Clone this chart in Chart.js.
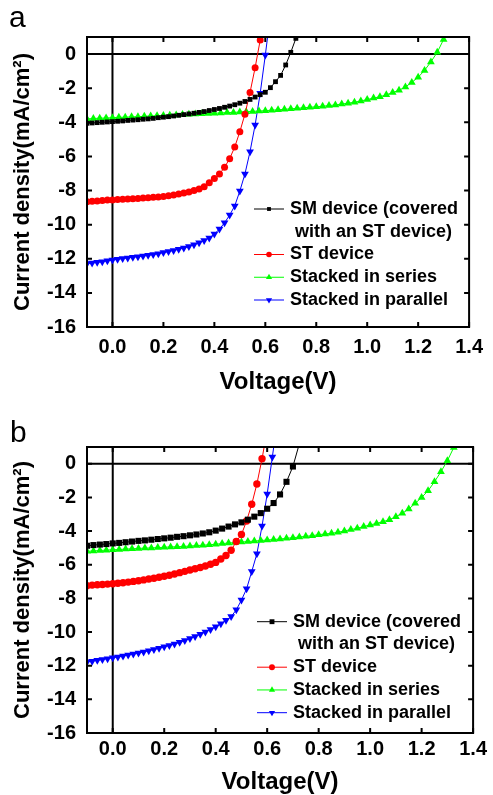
<!DOCTYPE html>
<html>
<head>
<meta charset="utf-8">
<script src="https://cdn.jsdelivr.net/npm/chart.js@4.4.0/dist/chart.umd.min.js"></script>
<style>
    html, body { margin: 0; padding: 0; background: #fff; }
    canvas { position: absolute; left: 0; }
</style>
</head>
<body>
<canvas id="panel-a" width="493" height="395" style="top:0"></canvas>
<canvas id="panel-b" width="493" height="400" style="top:395px"></canvas>
<script>
// Voltage grids (V) the curves were sampled on
const V_STEP_02 = [-0.10, -0.08, -0.06, -0.04, -0.02, 0.00, 0.02, 0.04, 0.06, 0.08,
    0.10, 0.12, 0.14, 0.16, 0.18, 0.20, 0.22, 0.24, 0.26, 0.28,
    0.30, 0.32, 0.34, 0.36, 0.38, 0.40, 0.42, 0.44, 0.46, 0.48,
    0.50, 0.52, 0.54, 0.56, 0.58, 0.60, 0.62, 0.64, 0.66, 0.68,
    0.70, 0.72, 0.74];
const V_STEP_025 = [-0.100, -0.075, -0.050, -0.025, 0.000, 0.025, 0.050, 0.075, 0.100, 0.125,
    0.150, 0.175, 0.200, 0.225, 0.250, 0.275, 0.300, 0.325, 0.350, 0.375,
    0.400, 0.425, 0.450, 0.475, 0.500, 0.525, 0.550, 0.575, 0.600, 0.625,
    0.650, 0.675, 0.700, 0.725, 0.750, 0.775, 0.800, 0.825, 0.850, 0.875,
    0.900, 0.925, 0.950, 0.975, 1.000, 1.025, 1.050, 1.075, 1.100, 1.125,
    1.150, 1.175, 1.200, 1.225, 1.250, 1.275, 1.300, 1.325];

// Series names (legend)
const SERIES_LABELS = [
    'SM device (covered\n with an ST device)',
    'ST device',
    'Stacked in series',
    'Stacked in parallel'
];

// Panel a: current density (mA/cm2)
const A_SM = [-4.06, -4.04, -4.02, -4.00, -3.98, -3.96, -3.94, -3.92, -3.89, -3.87,
    -3.85, -3.82, -3.80, -3.77, -3.73, -3.70, -3.67, -3.63, -3.59, -3.55,
    -3.51, -3.47, -3.42, -3.37, -3.31, -3.25, -3.19, -3.12, -3.05, -2.97,
    -2.88, -2.78, -2.66, -2.52, -2.38, -2.24, -1.97, -1.62, -1.25, -0.64,
    0.10, 0.92, 1.90];
const A_ST = [-8.66, -8.63, -8.61, -8.58, -8.56, -8.55, -8.53, -8.51, -8.50, -8.48,
    -8.46, -8.44, -8.42, -8.40, -8.38, -8.35, -8.31, -8.26, -8.21, -8.15,
    -8.08, -8.00, -7.91, -7.78, -7.54, -7.29, -7.03, -6.64, -6.13, -5.45,
    -4.55, -3.53, -2.25, -0.80, 0.82, 2.60];
const A_SERIES = [-3.80, -3.78, -3.76, -3.75, -3.73, -3.71, -3.70, -3.68, -3.67, -3.65,
    -3.63, -3.62, -3.60, -3.58, -3.57, -3.55, -3.53, -3.52, -3.50, -3.48,
    -3.47, -3.45, -3.43, -3.42, -3.40, -3.38, -3.36, -3.34, -3.32, -3.29,
    -3.27, -3.24, -3.21, -3.18, -3.15, -3.12, -3.09, -3.06, -3.02, -2.98,
    -2.93, -2.88, -2.82, -2.75, -2.67, -2.58, -2.50, -2.39, -2.26, -2.12,
    -1.93, -1.66, -1.36, -0.96, -0.46, 0.10, 0.86];
const A_PARALLEL = [-12.28, -12.25, -12.21, -12.17, -12.12, -12.07, -12.03, -11.99, -11.95, -11.91,
    -11.88, -11.84, -11.80, -11.75, -11.70, -11.64, -11.58, -11.51, -11.44, -11.37,
    -11.28, -11.18, -11.06, -10.93, -10.78, -10.55, -10.26, -9.89, -9.44, -8.90,
    -8.03, -7.03, -5.72, -4.16, -2.30, -0.06, 2.30];

// Panel b: current density (mA/cm2)
const B_SM = [-4.87, -4.83, -4.80, -4.77, -4.73, -4.70, -4.66, -4.62, -4.58, -4.55,
    -4.51, -4.47, -4.43, -4.39, -4.34, -4.30, -4.25, -4.20, -4.14, -4.07,
    -3.97, -3.85, -3.73, -3.60, -3.48, -3.32, -3.14, -2.93, -2.67, -2.33,
    -1.82, -1.07, -0.16, 1.20];
const B_ST = [-7.24, -7.21, -7.19, -7.17, -7.15, -7.13, -7.10, -7.07, -7.03, -6.99,
    -6.95, -6.90, -6.85, -6.80, -6.74, -6.68, -6.62, -6.55, -6.47, -6.39,
    -6.31, -6.24, -6.16, -6.07, -5.97, -5.86, -5.66, -5.45, -5.14, -4.62,
    -4.20, -3.40, -2.40, -1.20, 0.30, 2.00];
const B_SERIES = [-5.20, -5.18, -5.15, -5.13, -5.11, -5.09, -5.07, -5.05, -5.03, -5.01,
    -5.00, -4.98, -4.96, -4.94, -4.93, -4.91, -4.89, -4.86, -4.84, -4.81,
    -4.78, -4.74, -4.71, -4.68, -4.65, -4.62, -4.59, -4.56, -4.53, -4.50,
    -4.47, -4.43, -4.39, -4.35, -4.31, -4.27, -4.21, -4.17, -4.13, -4.07,
    -3.99, -3.91, -3.83, -3.73, -3.63, -3.54, -3.44, -3.32, -3.14, -2.94,
    -2.69, -2.35, -2.00, -1.60, -1.07, -0.47, 0.18, 0.97];
const B_PARALLEL = [-11.78, -11.73, -11.68, -11.63, -11.58, -11.53, -11.48, -11.42, -11.37, -11.31,
    -11.25, -11.18, -11.11, -11.04, -10.96, -10.88, -10.80, -10.71, -10.61, -10.50,
    -10.38, -10.26, -10.13, -9.99, -9.85, -9.68, -9.50, -9.30, -9.08, -8.68,
    -8.10, -7.43, -6.40, -5.35, -3.70, -1.80, 0.40, 2.60];

// Axis ticks
const X_TICKS = [0.0, 0.2, 0.4, 0.6, 0.8, 1.0, 1.2, 1.4];
const Y_TICKS = [0, -2, -4, -6, -8, -10, -12, -14, -16];

const FONT = '"Liberation Sans", Arial, Helvetica, sans-serif';
Chart.defaults.font.family = FONT;
Chart.defaults.color = '#000';

// Marker look per series (same order as labels)
const SERIES_STYLE = [
    { color: '#000000', pointStyle: 'rect', rotation: 0 },
    { color: '#ff0000', pointStyle: 'circle', rotation: 0 },
    { color: '#00ff00', pointStyle: 'triangle', rotation: 0 },
    { color: '#0000ff', pointStyle: 'triangle', rotation: 180 }
];

/**
 * Pair a voltage grid with a current array
 */
function toPoints(volts, amps) {
    return amps.map((j, i) => ({ x: volts[i], y: j }));
}

/**
 * Frame, zero lines, inward ticks, in-plot legend and panel letter
 */
const panelFrame = {
    id: 'panelFrame',
    beforeDatasetsDraw(chart) {
        const { ctx, chartArea: a, scales: { x, y } } = chart;
        const x0 = x.getPixelForValue(0);
        const y0 = y.getPixelForValue(0);
        ctx.save();
        ctx.strokeStyle = '#000';
        ctx.lineWidth = 2;
        ctx.beginPath();
        ctx.moveTo(a.left, y0);
        ctx.lineTo(a.right, y0);
        ctx.moveTo(x0, a.top);
        ctx.lineTo(x0, a.bottom);
        ctx.stroke();
        ctx.restore();
    },
    afterDatasetsDraw(chart) {
        const { ctx, chartArea: a, scales: { x, y } } = chart;
        const tick = 5;
        ctx.save();
        ctx.strokeStyle = '#000';
        ctx.lineWidth = 2;
        ctx.strokeRect(a.left, a.top, a.right - a.left, a.bottom - a.top);
        ctx.beginPath();
        X_TICKS.forEach(v => {
            const px = x.getPixelForValue(v);
            ctx.moveTo(px, a.bottom);
            ctx.lineTo(px, a.bottom - tick);
            ctx.moveTo(px, a.top);
            ctx.lineTo(px, a.top + tick);
        });
        Y_TICKS.forEach(v => {
            const py = y.getPixelForValue(v);
            ctx.moveTo(a.left, py);
            ctx.lineTo(a.left + tick, py);
            ctx.moveTo(a.right, py);
            ctx.lineTo(a.right - tick, py);
        });
        ctx.stroke();
        ctx.restore();
    },
    afterDraw(chart, args, opts) {
        const ctx = chart.ctx;
        ctx.save();

        // legend inside the plot
        ctx.font = 'bold 18px ' + FONT;
        ctx.textBaseline = 'middle';
        ctx.textAlign = 'left';
        let row = 0;
        chart.data.datasets.forEach(ds => {
            const cy = opts.legendY + row * opts.rowHeight;
            ctx.strokeStyle = ds.borderColor;
            ctx.lineWidth = 1;
            ctx.beginPath();
            ctx.moveTo(opts.legendX, cy);
            ctx.lineTo(opts.legendX + opts.lineLength, cy);
            ctx.stroke();
            ctx.fillStyle = ds.pointBackgroundColor;
            Chart.helpers.drawPoint(ctx, {
                pointStyle: ds.pointStyle,
                radius: ds.pointRadius * 0.8,
                rotation: ds.pointRotation,
                borderWidth: 0
            }, opts.legendX + opts.lineLength / 2, cy);
            ctx.fillStyle = '#000';
            ds.label.split('\n').forEach((line, k) => {
                ctx.fillText(line, opts.legendX + opts.lineLength + 6, cy + k * opts.rowHeight);
                row++;
            });
        });

        // panel letter
        ctx.font = '30px ' + FONT;
        ctx.textBaseline = 'alphabetic';
        ctx.fillText(opts.letter, opts.letterX, opts.letterY);
        ctx.restore();
    }
};

/**
 * Build one J-V panel
 */
function buildPanel(canvasId, series, layout) {
    const datasets = series.map((s, i) => ({
        label: SERIES_LABELS[i],
        data: toPoints(s.volts, s.amps),
        borderColor: SERIES_STYLE[i].color,
        backgroundColor: SERIES_STYLE[i].color,
        borderWidth: 1,
        tension: 0,
        pointStyle: SERIES_STYLE[i].pointStyle,
        pointRotation: SERIES_STYLE[i].rotation,
        pointRadius: layout.radius[i],
        pointBackgroundColor: SERIES_STYLE[i].color,
        pointBorderColor: SERIES_STYLE[i].color,
        pointBorderWidth: 0,
        pointHoverRadius: layout.radius[i]
    }));

    return new Chart(document.getElementById(canvasId), {
        type: 'line',
        data: { datasets },
        plugins: [panelFrame],
        options: {
            responsive: false,
            animation: false,
            events: [],
            layout: { padding: { top: layout.top, right: 15, left: 0, bottom: 0 } },
            plugins: {
                legend: { display: false },
                tooltip: { enabled: false },
                panelFrame: layout.legend
            },
            scales: {
                x: {
                    type: 'linear',
                    min: -0.1,
                    max: 1.4,
                    afterBuildTicks: scale => { scale.ticks = X_TICKS.map(v => ({ value: v })); },
                    afterFit: scale => { scale.height = layout.xAxisHeight; },
                    grid: { display: false, drawTicks: false },
                    border: { display: false },
                    ticks: {
                        autoSkip: false,
                        maxRotation: 0,
                        padding: layout.xTickPad,
                        color: '#000',
                        font: { size: 20, weight: 'bold', lineHeight: 1 },
                        callback: v => v.toFixed(1)
                    },
                    title: {
                        display: true,
                        text: 'Voltage(V)',
                        color: '#000',
                        font: { size: 24, weight: 'bold', lineHeight: 1 },
                        padding: { top: 0, bottom: 1 }
                    }
                },
                y: {
                    type: 'linear',
                    min: -16,
                    max: 1,
                    afterBuildTicks: scale => { scale.ticks = Y_TICKS.map(v => ({ value: v })); },
                    afterFit: scale => { scale.width = 87; },
                    grid: { display: false, drawTicks: false },
                    border: { display: false },
                    ticks: {
                        padding: 11,
                        color: '#000',
                        font: { size: 20, weight: 'bold', lineHeight: 1 },
                        callback: v => String(v)
                    },
                    title: {
                        display: true,
                        text: 'Current density(mA/cm²)',
                        color: '#000',
                        font: { size: 22, weight: 'bold', lineHeight: 1 },
                        padding: { top: 12, bottom: 0 }
                    }
                }
            }
        }
    });
}

buildPanel('panel-a', [
    { volts: V_STEP_02, amps: A_SM },
    { volts: V_STEP_02, amps: A_ST },
    { volts: V_STEP_025, amps: A_SERIES },
    { volts: V_STEP_02, amps: A_PARALLEL }
], {
    top: 37,
    xAxisHeight: 68,
    xTickPad: 10,
    radius: [3.4, 3.5, 4.5, 4.5],
    legend: { legendX: 254, legendY: 209, rowHeight: 22.75, lineLength: 30, letter: 'a', letterX: 9, letterY: 27 }
});

buildPanel('panel-b', [
    { volts: V_STEP_025, amps: B_SM },
    { volts: V_STEP_02, amps: B_ST },
    { volts: V_STEP_025, amps: B_SERIES },
    { volts: V_STEP_02, amps: B_PARALLEL }
], {
    top: 52,
    xAxisHeight: 62,
    xTickPad: 6,
    radius: [4.3, 3.7, 4.5, 4.5],
    legend: { legendX: 257, legendY: 226.7, rowHeight: 22.75, lineLength: 30, letter: 'b', letterX: 10, letterY: 47 }
});
</script>
</body>
</html>
